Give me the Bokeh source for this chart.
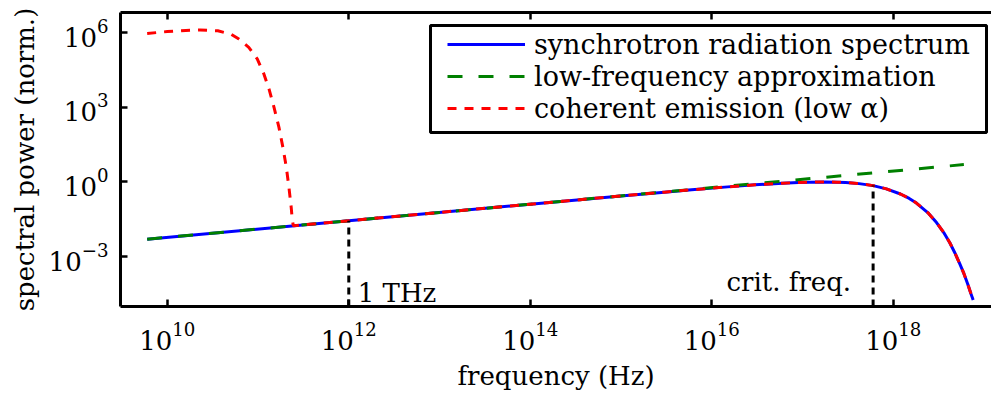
from bokeh.plotting import figure
from bokeh.models import (Range1d, FixedTicker, LogAxis, Label, Legend, LegendItem,
                          BoxAnnotation)
from bokeh.embed import file_html
from bokeh.resources import INLINE

# ---------------- data ----------------
x_ticks = [1e10, 1e12, 1e14, 1e16, 1e18]
y_ticks = [1e-3, 1e0, 1e3, 1e6]

sync_freq = [6.0e9, 1.0e12, 1.0e14, 1.0e15, 3.0e15, 6.0e15, 1.5e16, 3.0e16,
             6.0e16, 9.0e16, 1.2e17, 1.8e17, 2.4e17, 3.0e17, 4.2e17, 6.0e17,
             8.4e17, 1.2e18, 1.5e18, 1.8e18, 2.4e18, 3.0e18, 3.6e18, 4.2e18,
             4.8e18, 5.4e18, 6.0e18, 6.6e18, 7.2e18, 7.6e18]
sync_power = [5.0e-3, 0.0277, 0.128, 0.273, 0.390, 0.485, 0.635, 0.765,
              0.891, 0.952, 0.985, 1.0, 0.981, 0.950, 0.858, 0.713,
              0.529, 0.328, 0.218, 0.142, 0.0589, 0.0233, 0.00926, 0.0036,
              0.00136, 5.16e-4, 2.09e-4, 8.1e-5, 3.1e-5, 1.8e-5]

lowf_freq = [6.0e9, 6.0e18]
lowf_power = [5.0e-3, 5.0]

coh_low_freq = [6.0e9, 1.0e10, 1.6e10, 2.3e10, 3.6e10, 5.0e10, 6.15e10, 7.9e10,
                9.8e10, 1.16e11, 1.32e11, 1.5e11, 1.7e11, 1.88e11, 2.05e11,
                2.19e11, 2.32e11, 2.38e11, 2.45e11]
coh_low_power = [9.4e5, 1.12e6, 1.25e6, 1.29e6, 1.2e6, 8.9e5, 5.6e5, 2.6e5,
                 8.9e4, 2.2e4, 5.5e3, 1.0e3, 157.0, 24.5, 3.9,
                 0.61, 0.095, 0.032, 0.0172]

marker_freq = [1.0e12, 6.0e17]
marker_top = [0.0277, 0.713]
marker_text = ["1 THz", "crit. freq."]

series_names = ["synchrotron radiation spectrum",
                "low-frequency approximation",
                "coherent emission (low α)"]

coh_freq = coh_low_freq + sync_freq[1:]
coh_power = coh_low_power + sync_power[1:]

# ---------------- figure ----------------
FONT = "DejaVu Serif"
FS = "26px"
FS_LEG = "27px"
y_lo, y_hi = 9.8e-6, 6.55e6

p = figure(width=991, height=396, x_axis_type="log", y_axis_type="log",
           x_range=Range1d(3.05e9, 1.21e19), y_range=Range1d(y_lo, y_hi),
           output_backend="svg", toolbar_location=None,
           min_border_left=120, min_border_right=0,
           min_border_top=12, min_border_bottom=90)
p.outline_line_color = None
p.xgrid.visible = False
p.ygrid.visible = False
p.background_fill_color = "white"
p.border_fill_color = "white"

def style_axis(ax, ticks):
    ax.ticker = FixedTicker(ticks=ticks)
    ax.axis_line_width = 3
    ax.axis_line_color = "black"
    ax.major_tick_in = 7
    ax.major_tick_out = 0
    ax.major_tick_line_width = 2.5
    ax.major_tick_line_color = "black"
    ax.minor_tick_line_color = None
    ax.major_label_text_font = FONT
    ax.major_label_text_font_size = FS
    ax.major_label_text_color = "black"
    ax.axis_label_text_font = FONT
    ax.axis_label_text_font_size = FS
    ax.axis_label_text_font_style = "normal"
    ax.axis_label_text_color = "black"

style_axis(p.xaxis[0], x_ticks)
style_axis(p.yaxis[0], y_ticks)
p.xaxis[0].axis_label = "frequency (Hz)"
p.yaxis[0].axis_label = "spectral power (norm.)"
p.xaxis[0].major_label_standoff = 15
p.yaxis[0].major_label_standoff = 12
p.xaxis[0].axis_label_standoff = 8
p.yaxis[0].axis_label_standoff = 6

top_axis = LogAxis()
style_axis(top_axis, x_ticks)
top_axis.major_label_text_font_size = "1px"
top_axis.major_label_text_alpha = 0
top_axis.major_label_standoff = 0
p.add_layout(top_axis, "above")

# curves
r_sync = p.line(sync_freq, sync_power, line_color="#0000ff", line_width=3)
r_lowf = p.line(lowf_freq, lowf_power, line_color="#008000", line_width=3,
                line_dash="15 16")
r_coh = p.line(coh_freq, coh_power, line_color="#ff0000", line_width=3,
               line_dash="9 8")

# marker lines
p.segment(x0=marker_freq, y0=[y_lo] * len(marker_freq), x1=marker_freq,
          y1=marker_top, line_color="black", line_width=3, line_dash="7 5")

p.add_layout(Label(x=marker_freq[0], y=3.5e-5, text=marker_text[0], x_offset=9,
                   text_font=FONT, text_font_size=FS, text_baseline="alphabetic",
                   text_align="left", text_color="black"))
p.add_layout(Label(x=marker_freq[1], y=9.9e-5, text=marker_text[1], x_offset=-22,
                   text_font=FONT, text_font_size=FS, text_baseline="alphabetic",
                   text_align="right", text_color="black"))

# legend frame (screen units relative to the plot frame)
box = BoxAnnotation(left=310, right=866, top=281, bottom=174,
                    left_units="screen", right_units="screen",
                    top_units="screen", bottom_units="screen",
                    fill_color="white", fill_alpha=1.0,
                    line_color="black", line_width=3, line_alpha=1.0)
p.add_layout(box)

legend = Legend(items=[LegendItem(label=series_names[0], renderers=[r_sync]),
                       LegendItem(label=series_names[1], renderers=[r_lowf]),
                       LegendItem(label=series_names[2], renderers=[r_coh])],
                location=(317, 172))
legend.label_text_font = FONT
legend.label_text_font_size = FS_LEG
legend.label_text_color = "black"
legend.glyph_width = 78
legend.glyph_height = 32
legend.label_height = 32
legend.label_standoff = 9
legend.spacing = 0
legend.padding = 10
legend.margin = 0
legend.border_line_alpha = 0
legend.background_fill_alpha = 0
p.add_layout(legend, "center")

open("out.html", "w").write(file_html(p, INLINE))
